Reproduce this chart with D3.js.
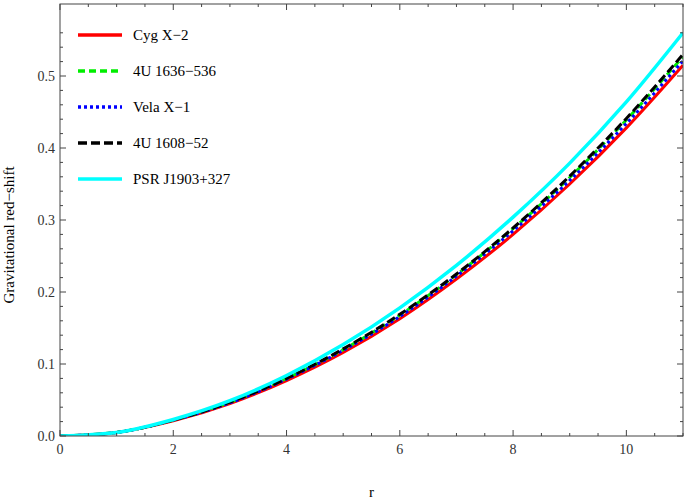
<!DOCTYPE html>
<html><head><meta charset="utf-8">
<script src="https://cdn.jsdelivr.net/npm/d3@7"></script>
<style>body{margin:0;background:#fff}text{font-family:"Liberation Serif","DejaVu Serif",serif}</style>
</head><body><svg id="chart" width="685" height="503"></svg>
<script>
const rValues = [0, 1, 2, 3, 4, 5, 6, 7, 8, 9, 10, 11];
const cygX2 = [0, 0.005, 0.021, 0.045, 0.077, 0.116, 0.163, 0.218, 0.280, 0.350, 0.428, 0.515];
const u1636 = [0, 0.005, 0.022, 0.047, 0.080, 0.120, 0.168, 0.224, 0.288, 0.359, 0.439, 0.527];
const velaX1 = [0, 0.005, 0.022, 0.046, 0.079, 0.119, 0.166, 0.222, 0.285, 0.355, 0.434, 0.521];
const u1608 = [0, 0.005, 0.022, 0.047, 0.080, 0.121, 0.169, 0.225, 0.289, 0.361, 0.441, 0.530];
const psrJ1903 = [0, 0.005, 0.023, 0.049, 0.084, 0.127, 0.178, 0.237, 0.304, 0.379, 0.464, 0.560];

const series = [
  { name: "Cyg X\u22122", values: cygX2, color: "#ff0000", dash: null },
  { name: "4U 1636\u2212536", values: u1636, color: "#00ee00", dash: "7,4" },
  { name: "Vela X\u22121", values: velaX1, color: "#0000ff", dash: "3,3" },
  { name: "4U 1608\u221252", values: u1608, color: "#000000", dash: "9,4" },
  { name: "PSR J1903+327", values: psrJ1903, color: "#00ffff", dash: null }
];
const xTicks = [0, 2, 4, 6, 8, 10];
const yTicks = [0, 0.1, 0.2, 0.3, 0.4, 0.5];

const svg = d3.select("#chart");
const margin = { top: 4, right: 2, bottom: 67, left: 60 };
const W = 685 - margin.left - margin.right, H = 503 - margin.top - margin.bottom;
const g = svg.append("g").attr("transform", `translate(${margin.left},${margin.top})`);

const x = d3.scaleLinear().domain([0, 11]).range([0, W]);
const y = d3.scaleLinear().domain([0, 0.5]).range([H, 76 - margin.top]);
y.domain([0, 0.5 * H / (H - (76 - margin.top))]).range([H, 0]);

// curves
const line = d3.line().x((d, i) => x(rValues[i])).y(d => y(d)).curve(d3.curveMonotoneX);
g.append("defs").append("clipPath").attr("id", "clip").append("rect").attr("width", W).attr("height", H);
series.forEach(s => {
  g.append("path").datum(s.values).attr("clip-path", "url(#clip)")
    .attr("fill", "none").attr("stroke", s.color).attr("stroke-width", s.name.startsWith("PSR") ? 3.5 : 3)
    .attr("stroke-dasharray", s.dash).attr("d", line);
});

// frame + ticks
g.append("rect").attr("width", W).attr("height", H).attr("fill", "none").attr("stroke", "#444");
const minorX = d3.range(0, 11.01, 0.5);
const minorY = d3.range(0, 0.56, 0.02);
minorX.forEach(v => {
  const len = xTicks.includes(v) ? 6 : 3;
  [H, 0].forEach((yy, k) => g.append("line").attr("x1", x(v)).attr("x2", x(v))
    .attr("y1", yy).attr("y2", k ? len : H - len).attr("stroke", "#444"));
});
minorY.forEach(v => {
  const major = Math.abs(v * 10 - Math.round(v * 10)) < 1e-6;
  const len = major ? 6 : 3;
  [0, W].forEach((xx, k) => g.append("line").attr("y1", y(v)).attr("y2", y(v))
    .attr("x1", xx).attr("x2", k ? W - len : len).attr("stroke", "#444"));
});
xTicks.forEach(v => g.append("text").attr("x", x(v)).attr("y", H + 18).attr("text-anchor", "middle")
  .attr("font-size", 14).attr("fill", "#333").text(v));
yTicks.forEach(v => g.append("text").attr("x", -5).attr("y", y(v) + 5).attr("text-anchor", "end")
  .attr("font-size", 14).attr("fill", "#333").text(v.toFixed(1)));

svg.append("text").attr("x", margin.left + x(5.5)).attr("y", 497).attr("text-anchor", "middle")
  .attr("font-size", 15).text("r");
svg.append("text").attr("transform", "rotate(-90)").attr("x", -235).attr("y", 14)
  .attr("text-anchor", "middle").attr("font-size", 15).text("Gravitational red\u2212shift");

// legend
const legend = svg.append("g").attr("transform", "translate(78,35)");
series.forEach((s, i) => {
  const row = legend.append("g").attr("transform", `translate(0,${i * 36})`);
  row.append("line").attr("x1", 0).attr("x2", 44).attr("stroke", s.color).attr("stroke-width", 3.5)
    .attr("stroke-dasharray", s.dash);
  row.append("text").attr("x", 55).attr("y", 5).attr("font-size", 15).text(s.name);
});
</script></body></html>
